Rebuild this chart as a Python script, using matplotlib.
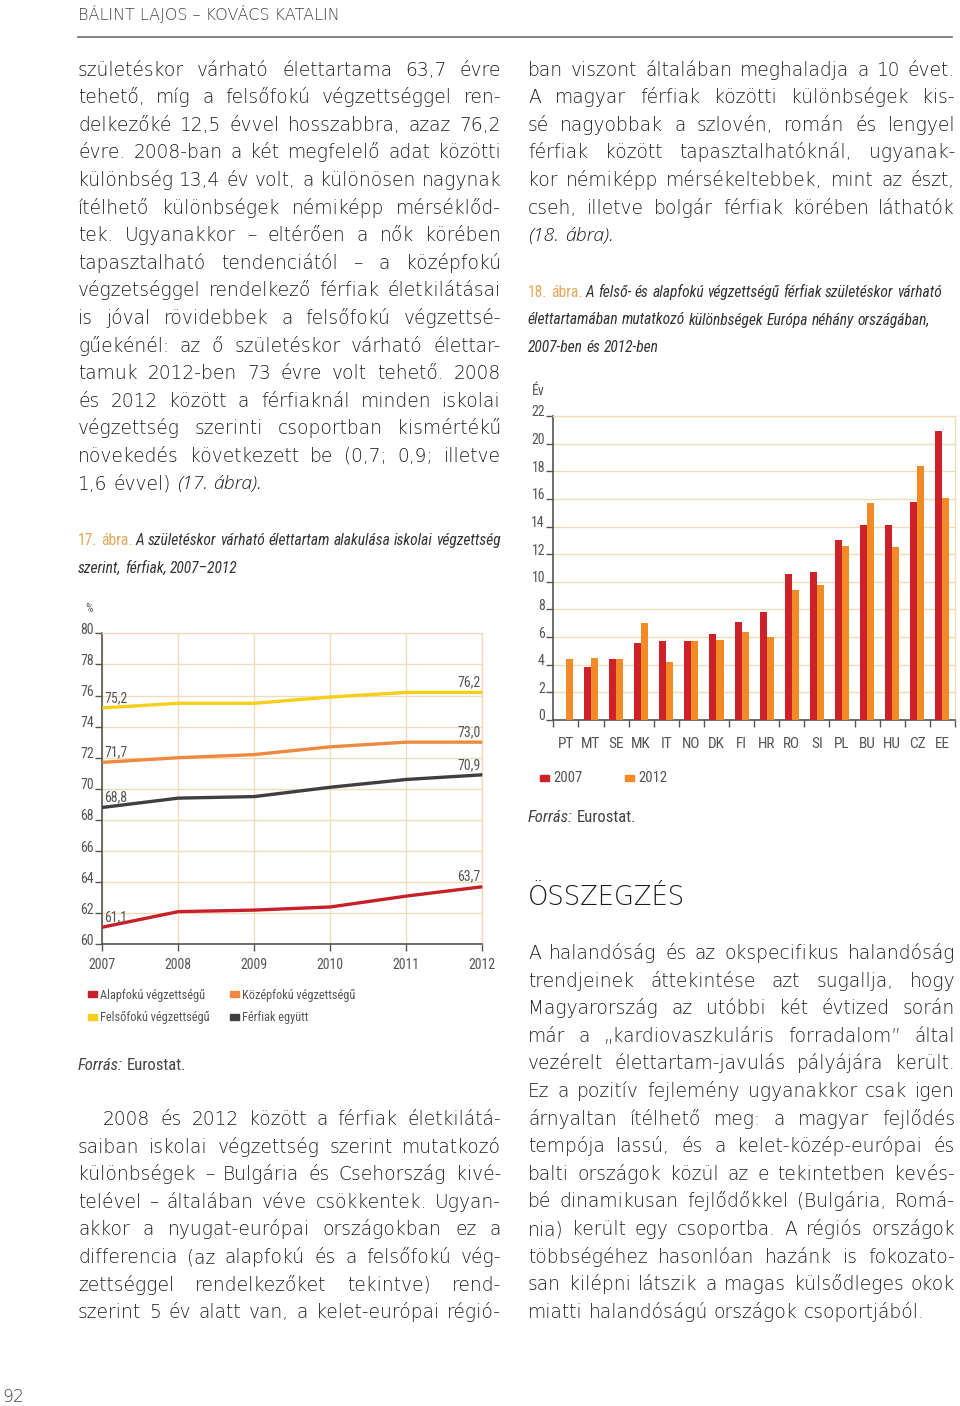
import matplotlib
matplotlib.use("Agg")
import matplotlib.pyplot as plt
from matplotlib.patches import Rectangle
from matplotlib.transforms import ScaledTranslation
from matplotlib import font_manager as fm
import numpy as np

# ---------------- data ----------------
years = [2007, 2008, 2009, 2010, 2011, 2012]
alapfoku = [61.1, 62.1, 62.2, 62.4, 63.1, 63.7]
kozepfoku = [71.7, 72.0, 72.2, 72.7, 73.0, 73.0]
felsofoku = [75.2, 75.5, 75.5, 75.9, 76.2, 76.2]
egyutt = [68.8, 69.4, 69.5, 70.1, 70.6, 70.9]
series17_names = ["Alapfokú végzettségű", "Középfokú végzettségű",
                  "Felsőfokú végzettségű", "Férfiak együtt"]
y17_ticks = [60, 62, 64, 66, 68, 70, 72, 74, 76, 78, 80]

countries = ["PT", "MT", "SE", "MK", "IT", "NO", "DK", "FI",
             "HR", "RO", "SI", "PL", "BU", "HU", "CZ", "EE"]
gap2007 = [0.0, 3.8, 4.4, 5.6, 5.7, 5.7, 6.2, 7.1, 7.8, 10.6, 10.7, 13.0, 14.1, 14.1, 15.8, 20.9]
gap2012 = [4.4, 4.5, 4.4, 7.0, 4.2, 5.7, 5.8, 6.4, 6.0, 9.4, 9.8, 12.6, 15.7, 12.5, 18.4, 16.1]
series18_names = ["2007", "2012"]
y18_ticks = [0, 2, 4, 6, 8, 10, 12, 14, 16, 18, 20, 22]

# ---------------- fonts ----------------
def _w(v):
    if isinstance(v, str):
        return fm.weight_dict.get(v, 400)
    return v

_ttf = fm.fontManager.ttflist
_names = {f.name for f in _ttf}
_dv_light = any(f.name == "DejaVu Sans" and _w(f.weight) <= 250 for f in _ttf)
BODY = {"family": "DejaVu Sans", "weight": 200 if _dv_light else "normal"}
BODY_COLOR = "#1f1f1f" if _dv_light else "#4a4a4a"
_os_light_it = any(f.name == "Open Sans" and f.style == "italic" and _w(f.weight) <= 350
                   for f in _ttf)
if _dv_light and _os_light_it:
    BODY_IT = ({"family": "Open Sans", "weight": "light"}, 1.04)
else:
    BODY_IT = (BODY, 1.0)

NARROW = None
for cand in ["Roboto Condensed", "Liberation Sans Narrow", "Open Sans Condensed"]:
    if cand in _names:
        NARROW = {"family": cand}
        break
if NARROW is None:
    if any(f.name == "DejaVu Sans" and "condensed" in str(f.stretch) for f in _ttf):
        NARROW = {"family": "DejaVu Sans", "stretch": "condensed"}
    else:
        NARROW = {"family": "Roboto"}

# ---------------- style ----------------
W, H = 960, 1406
TXT = "#333333"
AX = "#555555"
GRID = "#f0dcb8"
TAN = "#e4a75a"
C_RED = "#c8202b"
C_ORANGE = "#ee8a40"
C_YELLOW = "#f6cf1c"
C_DARK = "#3f3f3f"
C_BAR07 = "#cd2229"
C_BAR12 = "#f28a26"

fig = plt.figure(figsize=(W / 100, H / 100), dpi=100)
page = fig.add_axes([0, 0, 1, 1], zorder=0)
page.set_xlim(0, W)
page.set_ylim(H, 0)
page.axis("off")
renderer = fig.canvas.get_renderer()


def rect(x0, y0, x1, y1):
    return [x0 / W, 1 - y1 / H, (x1 - x0) / W, (y1 - y0) / H]


def measure(s, fs, props, style="normal"):
    t = page.text(0, 0, s, fontsize=fs, style=style, **props)
    w = t.get_window_extent(renderer).width
    t.remove()
    return w


def space_w(fs, props):
    return measure("x x", fs, props) - measure("xx", fs, props)


def parse(word):
    it = word.startswith("*")
    return (word[1:] if it else word), it


def word_style(it, fs, props, iprops):
    if it:
        p, k = iprops if iprops else (props, 1.0)
        return p, fs * k, "italic"
    return props, fs, "normal"


def natural(words, fs, props, iprops=None):
    ws = []
    for w in words:
        s, it = parse(w)
        p, f, st = word_style(it, fs, props, iprops)
        ws.append(measure(s, f, p, st))
    return sum(ws) + space_w(fs, props) * (len(words) - 1)


def line(words, x0, x1, y, fs, props, justify=True, color=TXT, colors=None, iprops=None):
    arts = []
    for i, w in enumerate(words):
        s, it = parse(w)
        p, f, st = word_style(it, fs, props, iprops)
        c = colors[i] if colors else color
        t = page.text(0, y, s, fontsize=f, style=st, color=c, va="baseline",
                      ha="left", **p)
        arts.append(t)
    widths = [a.get_window_extent(renderer).width for a in arts]
    gap = space_w(fs, props)
    if justify and len(words) > 1:
        gap = (x1 - x0 - sum(widths)) / (len(words) - 1)
    x = x0
    for a, wd in zip(arts, widths):
        a.set_x(x)
        x += wd + gap


def fit_size(text, target, fs_max, props, style="normal"):
    w = measure(text, 10, props, style)
    return min(fs_max, 10 * target / w)


# ---------------- body paragraphs ----------------
left1 = [
    "születéskor várható élettartama 63,7 évre",
    "tehető, míg a felsőfokú végzettséggel ren-",
    "delkezőké 12,5 évvel hosszabbra, azaz 76,2",
    "évre. 2008-ban a két megfelelő adat közötti",
    "különbség 13,4 év volt, a különösen nagynak",
    "ítélhető különbségek némiképp mérséklőd-",
    "tek. Ugyanakkor – eltérően a nők körében",
    "tapasztalható tendenciától – a középfokú",
    "végzetséggel rendelkező férfiak életkilátásai",
    "is jóval rövidebbek a felsőfokú végzettsé-",
    "gűekénél: az ő születéskor várható élettar-",
    "tamuk 2012-ben 73 évre volt tehető. 2008",
    "és 2012 között a férfiaknál minden iskolai",
    "végzettség szerinti csoportban kismértékű",
    "növekedés következett be (0,7; 0,9; illetve",
    "1,6 évvel) *(17. *ábra).",
]
left2 = [
    "2008 és 2012 között a férfiak életkilátá-",
    "saiban iskolai végzettség szerint mutatkozó",
    "különbségek – Bulgária és Csehország kivé-",
    "telével – általában véve csökkentek. Ugyan-",
    "akkor a nyugat-európai országokban ez a",
    "differencia (az alapfokú és a felsőfokú vég-",
    "zettséggel rendelkezőket tekintve) rend-",
    "szerint 5 év alatt van, a kelet-európai régió-",
]
right1 = [
    "ban viszont általában meghaladja a 10 évet.",
    "A magyar férfiak közötti különbségek kis-",
    "sé nagyobbak a szlovén, román és lengyel",
    "férfiak között tapasztalhatóknál, ugyanak-",
    "kor némiképp mérsékeltebbek, mint az észt,",
    "cseh, illetve bolgár férfiak körében láthatók",
    "*(18. *ábra).",
]
right2 = [
    "A halandóság és az okspecifikus halandóság",
    "trendjeinek áttekintése azt sugallja, hogy",
    "Magyarország az utóbbi két évtized során",
    "már a „kardiovaszkuláris forradalom” által",
    "vezérelt élettartam-javulás pályájára került.",
    "Ez a pozitív fejlemény ugyanakkor csak igen",
    "árnyaltan ítélhető meg: a magyar fejlődés",
    "tempója lassú, és a kelet-közép-európai és",
    "balti országok közül az e tekintetben kevés-",
    "bé dinamikusan fejlődőkkel (Bulgária, Romá-",
    "nia) került egy csoportba. A régiós országok",
    "többségéhez hasonlóan hazánk is fokozato-",
    "san kilépni látszik a magas külsődleges okok",
    "miatti halandóságú országok csoportjából.",
]

# global body size: tightest justified line gets normal word spacing
COLW = 423.0
ratios = []
for par, indent_first in [(left1, 0), (left2, 25), (right1, 0), (right2, 0)]:
    for i, l in enumerate(par[:-1]):
        nat = natural(l.split(), 12.0, BODY)
        ratios.append((COLW - (indent_first if i == 0 else 0)) / nat)
FS = min(13.6, 12.0 * min(ratios) * 0.995)


def paragraph(lines, x0, x1, y0, lead=27.6, last_justify=False, indent=0):
    for i, l in enumerate(lines):
        last = i == len(lines) - 1
        line(l.split(), x0 + (indent if i == 0 else 0), x1, y0 + i * lead, FS, BODY,
             justify=(not last) or last_justify, color=BODY_COLOR, iprops=BODY_IT)


paragraph(left1, 78, 501, 75.5)
paragraph(left2, 78, 501, 1125, last_justify=True, indent=25)
paragraph(right1, 528, 955, 75.5)
paragraph(right2, 528, 955, 959)

# ---------------- header & heading ----------------
hdr = "BÁLINT LAJOS – KOVÁCS KATALIN"
hdr_fs = fit_size(hdr, 350, 11.5, BODY)
page.text(78, 20, hdr, fontsize=hdr_fs, color="#444444", va="baseline", **BODY)
page.plot([78, 952], [36.5, 36.5], color="#7a7a7a", lw=1.3)

head = "ÖSSZEGZÉS"
head_fs = fit_size(head, 157, 18.5, BODY)
page.text(528, 905, head, fontsize=head_fs, color="#1a1a1a", va="baseline", **BODY)

# ---------------- captions ----------------
cap17 = [["17.", "ábra.", "*A", "*születéskor", "*várható", "*élettartam", "*alakulása",
          "*iskolai", "*végzettség"],
         ["*szerint,", "*férfiak,", "*2007–2012"]]
cap18 = [["18.", "ábra.", "*A", "*felső-", "*és", "*alapfokú", "*végzettségű", "*férfiak",
          "*születéskor", "*várható"],
         ["*élettartamában", "*mutatkozó", "*különbségek", "*Európa", "*néhány", "*országában,"],
         ["*2007-ben", "*és", "*2012-ben"]]
cap_fs = min(12.0,
             12.0 * 423 / natural(cap17[0], 12.0, NARROW),
             12.0 * 422 / natural(cap18[0], 12.0, NARROW),
             12.0 * 427 / natural(cap18[1], 12.0, NARROW))
line(cap17[0], 78, 501, 545, cap_fs, NARROW, justify=False, colors=[TAN, TAN] + [TXT] * 7)
line(cap17[1], 78, 501, 573, cap_fs, NARROW, justify=False)
line(cap18[0], 528, 955, 297, cap_fs, NARROW, justify=False, colors=[TAN, TAN] + [TXT] * 8)
line(cap18[1], 528, 955, 324.5, cap_fs, NARROW, justify=False)
line(cap18[2], 528, 955, 352, cap_fs, NARROW, justify=False)

src_fs = min(12.5, 12.0 * 108 / natural(["*Forrás:", "Eurostat."], 12.0, NARROW))

# ---------------- chart 17 ----------------
LAB_FS = 9.5
ax1 = fig.add_axes(rect(102.3, 633.3, 482.3, 944.3), zorder=2)
ax1.set_xlim(years[0], years[-1])
ax1.set_ylim(y17_ticks[0], y17_ticks[-1])
ax1.set_xticks(years)
ax1.set_yticks(y17_ticks)
ax1.set_yticklabels([str(v) for v in y17_ticks])
ax1.grid(True, color=GRID, lw=1.0)
ax1.set_axisbelow(True)
for s in ["left", "bottom"]:
    ax1.spines[s].set_color(AX)
    ax1.spines[s].set_linewidth(1.2)
for s in ["top", "right"]:
    ax1.spines[s].set_color(GRID)
    ax1.spines[s].set_linewidth(1.0)
ax1.tick_params(axis="both", direction="out", length=5, width=1, color=AX,
                labelcolor=AX, labelsize=LAB_FS)
ax1.tick_params(axis="y", pad=1)
ax1.tick_params(axis="x", pad=5)
for lab in ax1.get_yticklabels() + ax1.get_xticklabels():
    lab.set_fontproperties(fm.FontProperties(size=LAB_FS + 0.5, **NARROW))
for lab in ax1.get_yticklabels():
    lab.set_transform(lab.get_transform() + ScaledTranslation(0, 0.05, fig.dpi_scale_trans))
ax1.set_facecolor("none")

series17 = [alapfoku, kozepfoku, felsofoku, egyutt]
colors17 = [C_RED, C_ORANGE, C_YELLOW, C_DARK]
for vals, c in zip(series17, colors17):
    ax1.plot(years, vals, color=c, lw=2.4, solid_capstyle="butt", clip_on=False, zorder=3)
    for xv, v, ha, dx in [(years[0], vals[0], "left", 2), (years[-1], vals[-1], "right", -2)]:
        ax1.annotate(f"{v:.1f}".replace(".", ","), (xv, v), xytext=(dx, 10),
                     textcoords="offset pixels", ha=ha, va="center", fontsize=LAB_FS + 0.5,
                     color=AX, **NARROW)
page.text(85, 612, "%", fontsize=8.5, color=AX, va="baseline", **NARROW)

leg_fs = min(10.0, 10.0 * 112 / measure("Középfokú végzettségű", 10.0, NARROW))
leg_pos = [(88, 994), (230, 994), (88, 1017), (230, 1017)]
for (lx, ly), name, c in zip(leg_pos, series17_names, colors17):
    page.add_patch(Rectangle((lx, ly - 3), 9, 5.5, color=c))
    page.text(lx + 12, ly + 4.5, name, fontsize=leg_fs, color=AX, va="baseline", **NARROW)

line(["*Forrás:", "Eurostat."], 78, 501, 1070, src_fs, NARROW, justify=False, color="#444444")

# ---------------- chart 18 ----------------
ax2 = fig.add_axes(rect(553.3, 416, 955, 720), zorder=2)
x = np.arange(len(countries))
bw = 0.28
ax2.bar(x - bw / 2, gap2007, bw, color=C_BAR07, zorder=3)
ax2.bar(x + bw / 2, gap2012, bw, color=C_BAR12, zorder=3)
ax2.set_xlim(-0.5, len(countries) - 0.5)
ax2.set_ylim(y18_ticks[0], y18_ticks[-1])
ax2.set_yticks(y18_ticks)
ax2.set_yticklabels([str(v) for v in y18_ticks])
ax2.set_xticks(x)
ax2.set_xticklabels(countries)
ax2.set_xticks(np.arange(-0.5, len(countries)), minor=True)
ax2.yaxis.grid(True, color=GRID, lw=1.0)
ax2.set_axisbelow(True)
for s in ["left", "bottom"]:
    ax2.spines[s].set_color(AX)
    ax2.spines[s].set_linewidth(1.2)
for s in ["top", "right"]:
    ax2.spines[s].set_color(GRID)
    ax2.spines[s].set_linewidth(1.0)
ax2.tick_params(axis="x", which="major", length=0, pad=12, labelcolor=AX)
ax2.tick_params(axis="x", which="minor", length=5, direction="out", color=AX, width=1)
ax2.tick_params(axis="y", length=5, direction="out", color=AX, width=1, pad=1,
                labelcolor=AX)
for lab in ax2.get_yticklabels():
    lab.set_fontproperties(fm.FontProperties(size=LAB_FS + 0.5, **NARROW))
    lab.set_transform(lab.get_transform() + ScaledTranslation(0, 0.05, fig.dpi_scale_trans))
for lab in ax2.get_xticklabels():
    lab.set_fontproperties(fm.FontProperties(size=11, **NARROW))
ax2.set_facecolor("none")
page.text(532, 395, "Év", fontsize=LAB_FS + 0.5, color=AX, va="baseline", **NARROW)

for (lx, ly), name, c in zip([(540, 778), (625, 778)], series18_names, [C_BAR07, C_BAR12]):
    page.add_patch(Rectangle((lx, ly - 3), 9, 5.5, color=c))
    page.text(lx + 13, ly + 4.5, name, fontsize=10.5, color=AX, va="baseline", **NARROW)

line(["*Forrás:", "Eurostat."], 528, 955, 822, src_fs, NARROW, justify=False, color="#444444")

# page number
page.text(2, 1402, "92", fontsize=12.5, color="#444444", va="baseline", **BODY)

fig.savefig("out.png", dpi=100)
